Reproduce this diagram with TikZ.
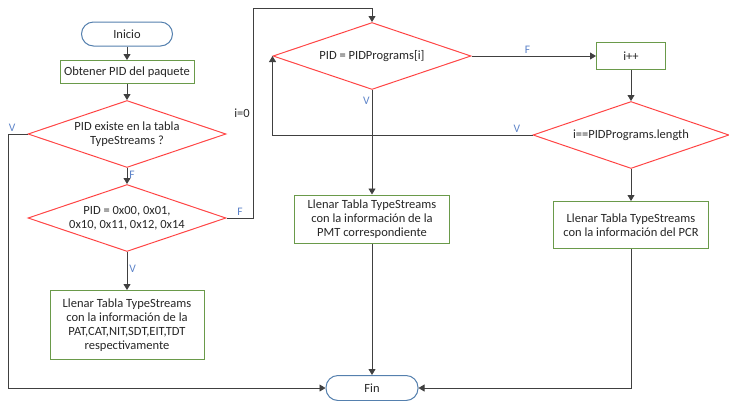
\documentclass[tikz,border=0pt]{standalone}
\usepackage{fontspec}
\setmainfont{Carlito}
\usetikzlibrary{shapes.geometric,arrows.meta}

\definecolor{linegray}{HTML}{404040}
\definecolor{decred}{HTML}{FF4545}
\definecolor{procgreen}{HTML}{6A9A4A}
\definecolor{termblue}{HTML}{5580AE}
\definecolor{lblblue}{HTML}{5B82C8}
\definecolor{txtgray}{HTML}{262626}

\begin{document}
\begin{tikzpicture}[
  x=1pt, y=-1pt,
  font=\fontsize{12.5}{14}\selectfont, text=txtgray,
  term/.style={rectangle, rounded corners=12pt, draw=termblue, line width=1pt,
               minimum width=91pt, minimum height=24pt, text centered},
  proc/.style={rectangle, draw=procgreen, line width=1pt, text centered,
               align=center, inner sep=2pt},
  dec/.style={diamond, draw=decred, line width=1pt, aspect=2.95,
              minimum width=198pt, minimum height=67pt, inner sep=0pt,
              align=center},
  lbl/.style={text=lblblue, font=\fontsize{11.5}{13}\selectfont, inner sep=2pt},
  arr/.style={draw=linegray, line width=0.8pt, -{Triangle[length=6pt,width=7pt]}}
]
\useasboundingbox (0,0) rectangle (729,400);

% left column
\node[term] (inicio) at (127,34) {Inicio};
\node[proc, minimum width=134pt, minimum height=23pt] (obt) at (127,72)
  {Obtener PID del paquete};
\node[dec] (q1) at (127,134) {PID existe en la tabla\\TypeStreams ?};
\node[dec] (q2) at (127,218) {PID = 0x00, 0x01,\\0x10, 0x11, 0x12, 0x14};
\node[proc, minimum width=154pt, minimum height=69pt] (tab1) at (127,325)
  {Llenar Tabla TypeStreams\\con la información de la\\PAT,CAT,NIT,SDT,EIT,TDT\\respectivamente};

% middle column
\node[dec] (q3) at (372,56) {PID = PIDPrograms[i]};
\node[proc, minimum width=155pt, minimum height=48pt] (tab2) at (372,219)
  {Llenar Tabla TypeStreams\\con la información de la\\PMT correspondiente};
\node[term, minimum width=92pt, minimum height=25pt] (fin) at (372,388) {Fin};

% right column
\node[proc, minimum width=69pt, minimum height=27pt] (inc) at (631,56) {i++};
\node[dec, minimum width=196pt] (q4) at (631,135) {i==PIDPrograms.length};
\node[proc, minimum width=155pt, minimum height=47pt] (tab3) at (631,225)
  {Llenar Tabla TypeStreams\\con la información del PCR};

\draw[arr] (inicio) -- (obt);
\draw[arr] (obt) -- (q1);
\draw[arr] (q1) -- node[lbl, right, pos=0.45] {F} (q2);
\draw[arr] (q2) -- node[lbl, right, pos=0.45] {V} (tab1);
\draw[arr] (q1.west) -- ++(-19,0) node[lbl, above right, xshift=-2pt] {V} |- (fin.west);
\draw[arr] (q2.east) -| node[lbl, above, pos=0.25] {F}
  node[left, pos=0.75] {i=0} ++(27,-210) -| (q3.north);

\draw[arr] (q3) -- node[lbl, left, pos=0.1] {V} (tab2);
\draw[arr] (tab2) -- (fin);
\draw[arr] (q3) -- node[lbl, above, pos=0.45] {F} (inc);
\draw[arr] (inc) -- (q4);
\draw[arr] (q4.west) -| node[lbl, above, pos=0.03] {V} (q3.west);
\draw[arr] (q4) -- (tab3);
\draw[arr] (tab3.south) |- (fin.east);
\end{tikzpicture}
\end{document}
